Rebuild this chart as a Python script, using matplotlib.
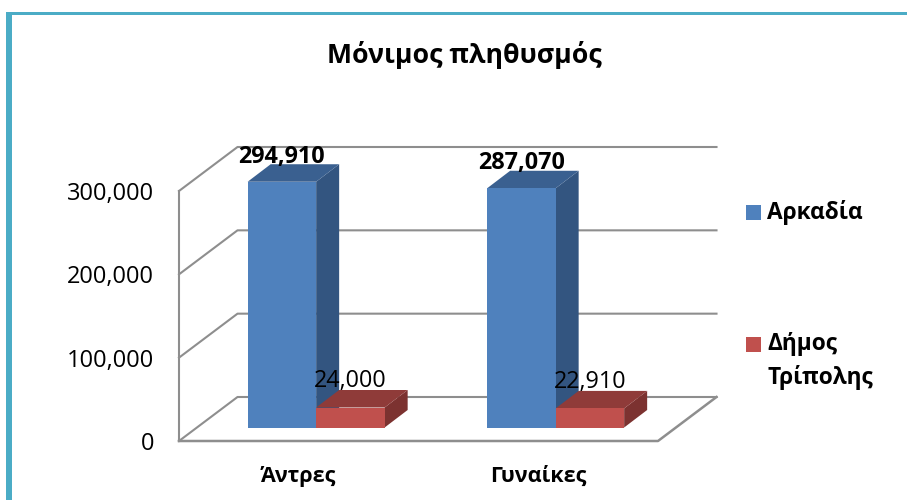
import matplotlib
matplotlib.use('Agg')
import matplotlib.pyplot as plt
from matplotlib.patches import Polygon, Rectangle
from matplotlib.ticker import FuncFormatter

plt.rcParams['font.family'] = ['Open Sans', 'DejaVu Sans']

# data
categories = ['Άντρες', 'Γυναίκες']
arkadia = [294910, 287070]
tripoli = [24000, 22910]
yticks = [0, 100000, 200000, 300000]
title = 'Μόνιμος πληθυσμός'
series_names = ['Αρκαδία', 'Δήμος\nΤρίπολης']
series_colors = ['#4f81bd', '#c0504d']

W, H = 907, 500
fig = plt.figure(figsize=(W / 100, H / 100), dpi=100)


def px_rect(x0, y0, x1, y1):
    return [x0 / W, 1 - y1 / H, (x1 - x0) / W, (y1 - y0) / H]


# teal frame, no right or bottom side
fig.add_artist(Rectangle((6 / W, 0), 6 / W, 1 - 12 / H, color='#4bacc6',
                         transform=fig.transFigure, lw=0))
fig.add_artist(Rectangle((6 / W, 1 - 15 / H), 1 - 6 / W, 3 / H, color='#4bacc6',
                         transform=fig.transFigure, lw=0))

ax = fig.add_axes(px_rect(179, 191, 658, 441))
ax.set_xlim(-0.5, 1.5)
ax.set_ylim(0, 300000)
ax.patch.set_visible(False)
for s in ax.spines.values():
    s.set_visible(False)

# pixel -> data units, for the fake 3d offsets
ux = 2 / (658 - 179)
uy = 300000 / (441 - 191)
wall_dx, wall_dy = 58.5 * ux, 44 * uy
shift_x, shift_y = 17.4 * ux, 13.5 * uy
depth_x, depth_y = 23 * ux, 17.5 * uy
grid_color = '#8e8e8e'

x0, x1 = ax.get_xlim()

# walls and floor
for v in yticks:
    ax.plot([x0, x0 + wall_dx, x1 + wall_dx], [v, v + wall_dy, v + wall_dy],
            color=grid_color, lw=1.5, clip_on=False, zorder=1)
ax.plot([x0, x0], [0, 300000], color=grid_color, lw=1.5, clip_on=False, zorder=1)
ax.plot([x0, x1, x1 + wall_dx], [0, 0, wall_dy], color=grid_color, lw=1.8,
        clip_on=False, zorder=1)

width = 0.286


def bar3d(left, value, front, side, top, z):
    left = left + shift_x
    right = left + width
    bot = shift_y
    val = value + shift_y
    ax.add_patch(Rectangle((left, bot), width, value, facecolor=front, lw=0,
                           clip_on=False, zorder=z + 0.2))
    ax.add_patch(Polygon([(right, bot), (right + depth_x, bot + depth_y),
                          (right + depth_x, val + depth_y), (right, val)],
                         facecolor=side, lw=0, clip_on=False, zorder=z))
    ax.add_patch(Polygon([(left, val), (left + depth_x, val + depth_y),
                          (right + depth_x, val + depth_y), (right, val)],
                         facecolor=top, lw=0, clip_on=False, zorder=z + 0.1))


for i in range(len(categories)):
    bar3d(i - width, arkadia[i], series_colors[0], '#335580', '#3a6090', 2)
    bar3d(i, tripoli[i], series_colors[1], '#7c3230', '#8f3b39', 3)

# value labels
label_fs = 16.8
for i in range(len(categories)):
    ax.annotate(f'{arkadia[i]:,}', (i - width / 2 + shift_x, arkadia[i] + shift_y), xytext=(0, 18),
                textcoords='offset points', ha='center', va='center', fontsize=label_fs,
                fontweight='bold', zorder=6, annotation_clip=False)
    ax.annotate(f'{tripoli[i]:,}', (i + width / 2 + shift_x, tripoli[i] + shift_y), xytext=(0, 19),
                textcoords='offset points', ha='center', va='center', fontsize=label_fs,
                zorder=6, annotation_clip=False)

# axes text
ax.set_yticks(yticks)
ax.yaxis.set_major_formatter(FuncFormatter(lambda v, _: f'{int(v):,}'))
ax.set_xticks(range(len(categories)))
ax.set_xticklabels(categories, fontsize=15.5, fontweight='bold')
ax.tick_params(axis='y', length=0, pad=18, labelsize=17)
ax.tick_params(axis='x', length=0, pad=18)

fig.text(464 / W, 1 - 55 / H, title, ha='center', va='center', fontsize=19.2, fontweight='bold')

# legend
legend_y = [205, 337]
for name, color, y in zip(series_names, series_colors, legend_y):
    fig.add_artist(Rectangle((746 / W, 1 - (y + 15) / H), 15 / W, 15 / H, color=color, lw=0,
                             transform=fig.transFigure))
    fig.text(767 / W, 1 - (y - 5) / H, name, ha='left', va='top', fontsize=16.3,
             fontweight='bold', linespacing=1.5)

fig.savefig('out.png', dpi=100)
